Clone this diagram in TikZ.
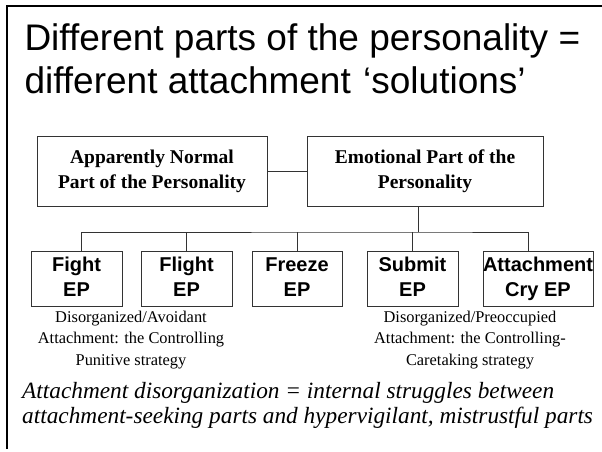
\documentclass[tikz,border=0pt]{standalone}
\usepackage{fontspec}
\setmainfont{Liberation Serif}
\setsansfont{Liberation Sans}
\tikzset{
  partbox/.style={draw=black!80,line width=.9pt,align=center,inner sep=0pt,
    font=\fontsize{19.5}{25}\selectfont\bfseries},
  epbox/.style={draw=black!80,line width=.9pt,align=center,inner sep=0pt,
    minimum height=55pt,font=\fontsize{20}{25}\selectfont\sffamily\bfseries},
  caption/.style={align=center,font=\fontsize{16.4}{21.5}\selectfont},
  link/.style={draw=black!80,line width=.9pt}
}
\begin{document}
\begin{tikzpicture}[x=1pt,y=-1pt]
\useasboundingbox (0,0) rectangle (602,451);
\draw[line width=2.2pt](7,449)--(7,6)--(602,6);
\node[anchor=base west,font=\fontsize{37}{43}\selectfont\sffamily](title1) at (21,50){Different parts of the personality =};
\node[anchor=base west,font=\fontsize{37}{43}\selectfont\sffamily](title2) at (21,93){different attachment\,\,‘solutions’};
\node[partbox,minimum width=230pt,minimum height=70pt](anp) at (152,171){\strut Apparently Normal\\\strut Part of the Personality};
\node[partbox,minimum width=236pt,minimum height=70pt](ep) at (425,171){\strut Emotional Part of the\\\strut Personality};
\draw[link](anp)--(ep);
\node[epbox,minimum width=91pt](fight) at (76.5,278.5){\strut Fight\\\strut EP};
\node[epbox,minimum width=91pt](flight) at (186.5,278.5){\strut Flight\\\strut EP};
\node[epbox,minimum width=90pt](freeze) at (297,278.5){\strut Freeze\\\strut EP};
\node[epbox,minimum width=91pt](submit) at (412.5,278.5){\strut Submit\\\strut EP};
\node[epbox,minimum width=110pt](attach) at (538,278.5){\strut Attachment\\\strut Cry EP};
\coordinate(bus) at (418,232);
\draw[link](ep.south -| bus)--(bus);
\draw[link]([xshift=4.5pt]fight.north)|-(bus)-|([xshift=-10pt]attach.north);
\foreach \n in {flight,freeze,submit}
  \draw[link](\n.north)--(\n.north |- bus);
\node[caption](avoid) at (131,340){Disorganized/Avoidant\\Attachment: the Controlling\\Punitive strategy};
\node[caption](preocc) at (470,340){Disorganized/Preoccupied\\Attachment: the Controlling-\\Caretaking strategy};
\node[anchor=base west,align=left,inner sep=0pt,font=\fontsize{23.3}{25}\selectfont\itshape](note) at (22,423){Attachment disorganization = internal struggles between\\attachment-seeking parts and hypervigilant, mistrustful parts};
\end{tikzpicture}
\end{document}
